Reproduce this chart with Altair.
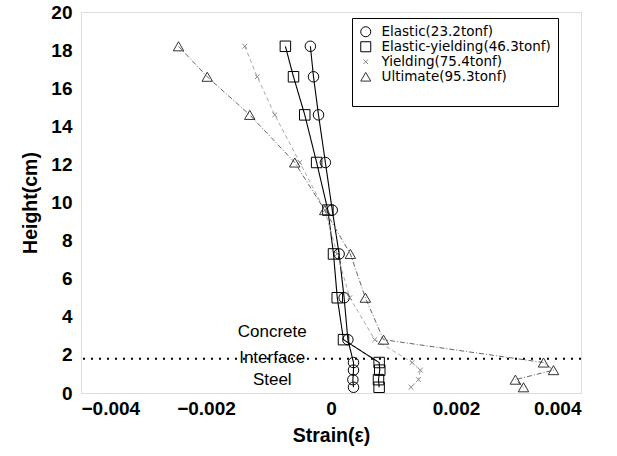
import altair as alt
import pandas as pd

# Load stages and their strain profiles along the gauge heights
series_names = [
    "Elastic(23.2tonf)",
    "Elastic-yielding(46.3tonf)",
    "Yielding(75.4tonf)",
    "Ultimate(95.3tonf)",
]
gauge_heights = [18.2, 16.6, 14.6, 12.1, 9.6, 7.3, 5.0, 2.8, 1.6, 1.2, 0.7, 0.3]

strain_elastic = [-0.00033, -0.00028, -0.00020, -0.00009, 0.00002, 0.00013,
                  0.00021, 0.00027, 0.00036, 0.00036, 0.00035, 0.00036]
strain_elastic_yielding = [-0.00073, -0.00060, -0.00042, -0.00023, -0.00005, 0.00004,
                           0.00010, 0.00020, 0.00077, 0.00078, 0.00076, 0.00077]
strain_yielding = [-0.00138, -0.00118, -0.00090, -0.00050, -0.00010, 0.00010,
                   0.00030, 0.00070, 0.00130, 0.00143, 0.00140, 0.00128]
strain_ultimate = [-0.00244, -0.00198, -0.00130, -0.00058, -0.00010, 0.00031,
                   0.00055, 0.00084, 0.00340, 0.00356, 0.00295, 0.00308]

# Region labels around the concrete/steel interface
interface_height = 1.8
region_labels = ["Concrete", "Interface", "Steel"]
region_heights = [3.2, 1.85, 0.68]
region_strain = [-0.00094, -0.00094, -0.00094]

x_ticks = [-0.004, -0.002, 0, 0.002, 0.004]
y_ticks = [0, 2, 4, 6, 8, 10, 12, 14, 16, 18, 20]

strain_sets = [strain_elastic, strain_elastic_yielding, strain_yielding, strain_ultimate]
rows = []
for name, strains in zip(series_names, strain_sets):
    for i, (h, s) in enumerate(zip(gauge_heights, strains)):
        rows.append({"series": name, "strain": s, "height": h, "idx": i})
df = pd.DataFrame(rows)

labels_df = pd.DataFrame({"label": region_labels, "height": region_heights,
                          "strain": region_strain})
interface_df = pd.DataFrame({"height": [interface_height]})

FONT = "Liberation Sans"

x_scale = alt.Scale(domain=[-0.004, 0.004], nice=False, zero=False)
y_scale = alt.Scale(domain=[0, 20], nice=False)

x_enc = alt.X(
    "strain:Q", scale=x_scale, title="Strain(ε)",
    axis=alt.Axis(values=x_ticks, grid=False, ticks=False, domain=False,
                  labelOverlap=False,
                  labelExpr="datum.value == 0 ? '0' : format(datum.value, '.3f')",
                  labelFontSize=19, labelFontWeight="bold", labelFont=FONT,
                  labelColor="black", labelPadding=6,
                  titleFontSize=19.5, titleFontWeight="bold", titleFont=FONT,
                  titleColor="black", titlePadding=8),
)
y_enc = alt.Y(
    "height:Q", scale=y_scale, title="Height(cm)",
    axis=alt.Axis(values=y_ticks, grid=False, ticks=False, domain=False,
                  labelOverlap=False, tickCount=11,
                  labelFontSize=19, labelFontWeight="bold", labelFont=FONT,
                  labelColor="black", labelPadding=9,
                  titleFontSize=19.5, titleFontWeight="bold", titleFont=FONT,
                  titleColor="black", titlePadding=10),
)

line_styles = {
    "Elastic(23.2tonf)": ("black", [1, 0], 1.1),
    "Elastic-yielding(46.3tonf)": ("black", [1, 0], 1.1),
    "Yielding(75.4tonf)": ("#a8a8a8", [4, 3], 1.0),
    "Ultimate(95.3tonf)": ("#666666", [5, 2, 1, 2], 1.0),
}

base = alt.Chart(df)
line_layers = []
for name in series_names:
    color, dash, width = line_styles[name]
    line_layers.append(
        base.transform_filter(alt.datum.series == name)
        .mark_line(color=color, strokeDash=dash, strokeWidth=width)
        .encode(x=x_enc, y=y_enc, order="idx:Q")
    )

legend = alt.Legend(
    title="\u00a0", titleOrient="bottom", titleFontSize=17, titlePadding=0,
    orient="none", legendX=271, legendY=6,
    labelFont="DejaVu Sans", labelFontSize=13.5, labelColor="black",
    strokeColor="black", fillColor="white", padding=7,
    rowPadding=0, symbolStrokeWidth=1, labelOffset=9, labelLimit=300,
)

# Tiny cross used for the yielding-stage gauges
small_cross = "M-0.45,-0.45L0.45,0.45M-0.45,0.45L0.45,-0.45"

points = base.mark_point(filled=False, strokeWidth=1, opacity=1, size=110).encode(
    x=x_enc, y=y_enc,
    color=alt.Color("series:N", sort=series_names,
                    scale=alt.Scale(domain=series_names,
                                    range=["black", "black", "#888888", "#333333"]),
                    legend=legend),
    shape=alt.Shape("series:N", sort=series_names,
                    scale=alt.Scale(domain=series_names,
                                    range=["circle", "square", small_cross,
                                           "triangle-up"]),
                    legend=legend),
)

interface_rule = alt.Chart(interface_df).mark_rule(
    color="black", strokeDash=[2, 6], strokeWidth=2
).encode(y=y_enc)

region_text = alt.Chart(labels_df).mark_text(
    font=FONT, fontSize=17, color="black", align="center", baseline="middle"
).encode(x=x_enc, y=y_enc, text="label:N")

chart = (
    alt.layer(*line_layers, points, interface_rule, region_text)
    .properties(width=500, height=381,
                autosize=alt.AutoSizeParams(type="none"),
                padding={"left": 81, "top": 12, "right": 36, "bottom": 63})
    .configure_view(stroke="black", strokeWidth=1.6)
    .configure(background="white")
)

chart.save("out.html", embed_options={"renderer": "svg", "actions": False})
